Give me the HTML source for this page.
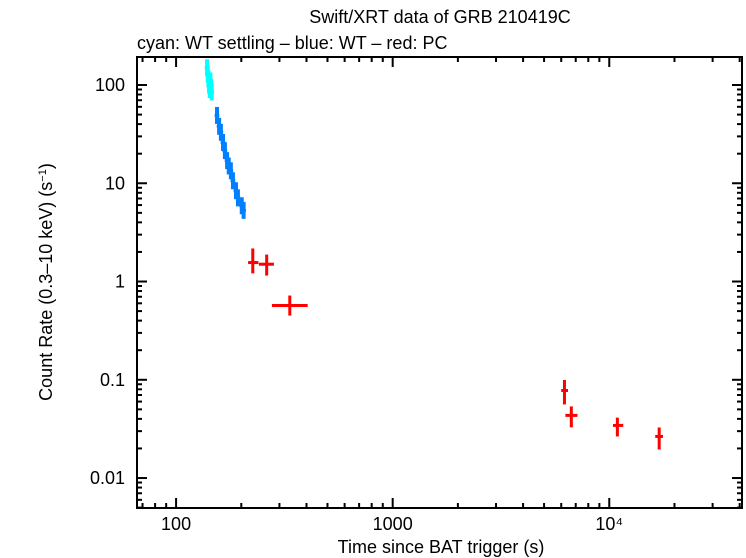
<!DOCTYPE html>
<html><head><meta charset="utf-8"><style>
html,body{margin:0;padding:0;background:#fff;}
svg{display:block;font-family:"Liberation Sans",sans-serif;}
</style></head><body>
<svg id="chart" width="746" height="558">
<text x="440" y="23" text-anchor="middle" font-size="18">Swift/XRT data of GRB 210419C</text>
<text x="137" y="49" font-size="18">cyan: WT settling – blue: WT – red: PC</text>
<text x="441" y="553" text-anchor="middle" font-size="18">Time since BAT trigger (s)</text>
<text transform="translate(52,282) rotate(-90)" text-anchor="middle" font-size="18">Count Rate (0.3–10 keV) (s<tspan dy="-6" font-size="11">−1</tspan><tspan dy="6">)</tspan></text>
<g id="axes"></g>
<g id="marks"></g>
<rect x="137" y="57" width="605" height="451" fill="none" stroke="#000" stroke-width="2"/>
</svg>
<script>
const cyanT=[139,140,141,142,143,144,145,146];
const cyanR=[150,130,115,100,90,110,95,85];
const blueT=[154.5,158,161,164.7,168,172,175,179,183,189,193,201,205];
const blueR=[49,38,33,26,21.5,17,15,13.4,10.6,8.4,7.1,5.9,5.3];
const pcT=[226,262,335,6210,6680,10900,17000];
const pcTlo=[215,241,277,6000,6270,10400,16300];
const pcThi=[240,283,405,6450,7130,11600,17700];
const pcR=[1.56,1.5,0.57,0.0778,0.0434,0.0343,0.0265];
const pcRlo=[1.21,1.15,0.45,0.0561,0.0328,0.0265,0.0195];
const pcRhi=[2.17,1.88,0.72,0.0995,0.0536,0.0412,0.0327];
const xTickVals=[100,1000,10000];
const xTickLabels=["100","1000","10⁴"];
const yTickVals=[100,10,1,0.1,0.01];
const yTickLabels=["100","10","1","0.1","0.01"];

const L=137,R=742,T=57,B=508;
const xmin=Math.log10(66),xmax=Math.log10(41000),ymin=-2.305,ymax=2.285;
const X=t=>L+(Math.log10(t)-xmin)/(xmax-xmin)*(R-L);
const Y=r=>B-(Math.log10(r)-ymin)/(ymax-ymin)*(B-T);
const NS="http://www.w3.org/2000/svg";
const axes=document.getElementById('axes'),marks=document.getElementById('marks');
function line(g,x1,y1,x2,y2,c,w){const l=document.createElementNS(NS,'line');l.setAttribute('x1',x1);l.setAttribute('y1',y1);l.setAttribute('x2',x2);l.setAttribute('y2',y2);l.setAttribute('stroke',c);l.setAttribute('stroke-width',w);g.appendChild(l);return l;}
function text(g,x,y,s,a){const t=document.createElementNS(NS,'text');t.setAttribute('x',x);t.setAttribute('y',y);t.setAttribute('font-size','18');t.setAttribute('text-anchor',a);t.textContent=s;g.appendChild(t);return t;}
for(let d=1;d<=4;d++){for(let m=1;m<10;m++){const v=m*Math.pow(10,d);if(v<66||v>41000)continue;const x=X(v);const len=m===1?10:5;
const t1=line(axes,x,B,x,B-len,'#000',2);
const t2=line(axes,x,T,x,T+len,'#000',2);}}
xTickVals.forEach((v,i)=>{const t=text(axes,X(v),530,xTickLabels[i],'middle');});
for(let d=-3;d<=2;d++){for(let m=1;m<10;m++){const v=m*Math.pow(10,d);const lv=Math.log10(v);if(lv<ymin||lv>ymax)continue;const y=Y(v);const len=m===1?10:5;
const t1=line(axes,L,y,L+len,y,'#000',2);
const t2=line(axes,R,y,R-len,y,'#000',2);}}
yTickVals.forEach((v,i)=>{const t=text(axes,125,Y(v)+6,yTickLabels[i],'end');});
function wt(Ts,Rs,col,name){Ts.forEach((t,i)=>{const g=document.createElementNS(NS,'g');


line(g,X(t*0.975),Y(Rs[i]),X(t*1.025),Y(Rs[i]),col,3);
line(g,X(t),Y(Rs[i]*1.22),X(t),Y(Rs[i]/1.22),col,4);marks.appendChild(g);});}
wt(cyanT,cyanR,'#00ffff','wt-settling-point');
wt(blueT,blueR,'#0080ff','wt-point');
pcT.forEach((t,i)=>{const g=document.createElementNS(NS,'g');


line(g,X(pcTlo[i]),Y(pcR[i]),X(pcThi[i]),Y(pcR[i]),'#ff0000',3);
line(g,X(t),Y(pcRhi[i]),X(t),Y(pcRlo[i]),'#ff0000',3);marks.appendChild(g);});
</script>
</body></html>
